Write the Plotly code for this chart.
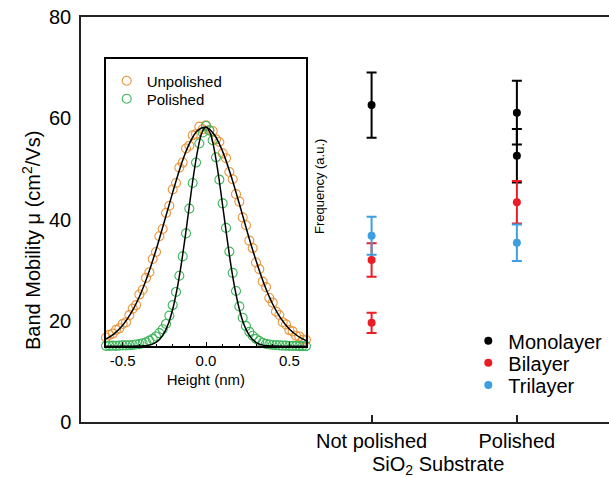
import plotly.graph_objects as go

# ---------------- main chart data ----------------
categories = ["Not polished", "Polished"]
cat_pos = [2, 3]

mono_x = [2, 3, 3]
mono_y = [62.6, 61.1, 52.6]
mono_err = [6.45, 6.3, 5.3]

bi_x = [2, 2, 3]
bi_y = [32.0, 19.6, 43.4]
bi_err = [3.3, 2.0, 4.2]

tri_x = [2, 3]
tri_y = [36.8, 35.4]
tri_err = [3.75, 3.6]

y_ticks = [0, 20, 40, 60, 80]

# ---------------- inset data ----------------
height_nm = [-0.60, -0.58, -0.56, -0.54, -0.52, -0.50, -0.48, -0.46, -0.44, -0.42,
             -0.40, -0.38, -0.36, -0.34, -0.32, -0.30, -0.28, -0.26, -0.24, -0.22,
             -0.20, -0.18, -0.16, -0.14, -0.12, -0.10, -0.08, -0.06, -0.04, -0.02,
             0.00, 0.02, 0.04, 0.06, 0.08, 0.10, 0.12, 0.14, 0.16, 0.18,
             0.20, 0.22, 0.24, 0.26, 0.28, 0.30, 0.32, 0.34, 0.36, 0.38,
             0.40, 0.42, 0.44, 0.46, 0.48, 0.50, 0.52, 0.54, 0.56, 0.58, 0.60]

unpolished_freq = [0.040, 0.052, 0.058, 0.075, 0.082, 0.102, 0.110, 0.142, 0.172, 0.188,
                   0.236, 0.258, 0.312, 0.338, 0.398, 0.430, 0.502, 0.535, 0.608, 0.641,
                   0.715, 0.745, 0.815, 0.838, 0.902, 0.915, 0.962, 0.968, 1.002, 0.990,
                   1.008, 0.985, 0.982, 0.944, 0.932, 0.880, 0.858, 0.795, 0.762, 0.694,
                   0.660, 0.588, 0.552, 0.482, 0.448, 0.382, 0.352, 0.295, 0.270, 0.220,
                   0.199, 0.158, 0.143, 0.110, 0.100, 0.074, 0.068, 0.048, 0.045, 0.030, 0.030]

polished_freq = [0.002, 0.002, 0.003, 0.002, 0.003, 0.004, 0.004, 0.005, 0.006, 0.008,
                 0.010, 0.014, 0.018, 0.026, 0.034, 0.045, 0.060, 0.078, 0.102, 0.140,
                 0.188, 0.248, 0.322, 0.410, 0.515, 0.628, 0.745, 0.838, 0.925, 0.975,
                 1.005, 0.985, 0.940, 0.862, 0.760, 0.652, 0.540, 0.432, 0.335, 0.252,
                 0.182, 0.130, 0.092, 0.066, 0.048, 0.034, 0.024, 0.016, 0.011, 0.008,
                 0.006, 0.005, 0.004, 0.003, 0.003, 0.002, 0.002, 0.002, 0.001, 0.001, 0.001]

# Gaussian fit curves
fit_unpol_x = [-0.60, -0.55, -0.50, -0.45, -0.40, -0.35, -0.30, -0.25, -0.20, -0.15, -0.10, -0.05,
               0.00, 0.05, 0.10, 0.15, 0.20, 0.25, 0.30, 0.35, 0.40, 0.45, 0.50, 0.55, 0.60]
fit_unpol_y = [0.033, 0.058, 0.096, 0.151, 0.226, 0.323, 0.439, 0.569, 0.702, 0.826, 0.924, 0.985,
               0.999, 0.965, 0.888, 0.778, 0.650, 0.516, 0.391, 0.281, 0.193, 0.126, 0.079, 0.047, 0.026]

fit_pol_x = [-0.60, -0.50, -0.40, -0.375, -0.35, -0.325, -0.30, -0.275, -0.25, -0.225, -0.20, -0.175,
             -0.15, -0.125, -0.10, -0.075, -0.05, -0.025, 0.00, 0.025, 0.05, 0.075, 0.10, 0.125,
             0.15, 0.175, 0.20, 0.225, 0.25, 0.275, 0.30, 0.325, 0.35, 0.375, 0.40, 0.50, 0.60]
fit_pol_y = [0.000, 0.000, 0.001, 0.002, 0.004, 0.009, 0.018, 0.035, 0.062, 0.105, 0.169, 0.256,
             0.367, 0.499, 0.641, 0.779, 0.895, 0.973, 1.000, 0.973, 0.895, 0.779, 0.641, 0.499,
             0.367, 0.256, 0.169, 0.105, 0.062, 0.035, 0.018, 0.009, 0.004, 0.002, 0.001, 0.000, 0.000]

inset_ticks = [-0.5, 0.0, 0.5]
inset_ticktext = ["-0.5", "0.0", "0.5"]

FONT = "Arial, Liberation Sans, sans-serif"
BLACK = "#000000"
RED = "#ec1c24"
BLUE = "#3d9fdf"
ORANGE = "#e8963c"
GREEN = "#3db55b"
AX = "#222222"

W, H = 609, 477

fig = go.Figure()

def main_trace(x, y, err, name, color, legend):
    return go.Scatter(
        x=x, y=y, mode="markers", name=name,
        marker=dict(color=color, size=8),
        error_y=dict(type="data", array=err, visible=True, color=color,
                     thickness=2, width=5),
        xaxis="x", yaxis="y", legend=legend, cliponaxis=False,
    )

fig.add_trace(main_trace(mono_x, mono_y, mono_err, "Monolayer", BLACK, "legend"))
fig.add_trace(main_trace(bi_x, bi_y, bi_err, "Bilayer", RED, "legend3"))
fig.add_trace(main_trace(tri_x, tri_y, tri_err, "Trilayer", BLUE, "legend4"))

fig.add_trace(go.Scatter(
    x=height_nm, y=unpolished_freq, mode="markers", name="Unpolished",
    marker=dict(symbol="circle-open", size=9, color=ORANGE, line=dict(width=1.1)),
    xaxis="x2", yaxis="y2", legend="legend2", cliponaxis=False,
))
fig.add_trace(go.Scatter(
    x=height_nm, y=polished_freq, mode="markers", name="Polished",
    marker=dict(symbol="circle-open", size=9, color=GREEN, line=dict(width=1.1)),
    xaxis="x2", yaxis="y2", legend="legend5", cliponaxis=False,
))
fig.add_trace(go.Scatter(
    x=fit_unpol_x, y=fit_unpol_y, mode="lines", line=dict(color=BLACK, width=1.5, shape="spline"),
    showlegend=False, xaxis="x2", yaxis="y2", hoverinfo="skip", cliponaxis=False,
))
fig.add_trace(go.Scatter(
    x=fit_pol_x, y=fit_pol_y, mode="lines", line=dict(color=BLACK, width=1.5, shape="spline"),
    showlegend=False, xaxis="x2", yaxis="y2", hoverinfo="skip", cliponaxis=False,
))

def leg(x_px, y_px, size):
    # x_px: marker centre; y_px: row centre (pixels from top-left)
    return dict(
        x=(x_px - 20) / W, y=(H - y_px) / H, xanchor="left", yanchor="middle",
        bgcolor="rgba(0,0,0,0)", borderwidth=0,
        font=dict(size=size, color=BLACK, family=FONT),
    )

fig.update_layout(
    width=W, height=H,
    margin=dict(l=0, r=0, t=0, b=0, autoexpand=False),
    paper_bgcolor="white", plot_bgcolor="rgba(0,0,0,0)",
    font=dict(family=FONT, color=BLACK),
    xaxis=dict(
        domain=[81 / W, 1.0], range=[0, 3.634],
        tickvals=cat_pos, ticktext=categories,
        ticks="inside", ticklen=7, tickwidth=1.5, tickcolor=AX,
        showline=True, linecolor=AX, linewidth=1.5, mirror=True,
        showgrid=False, zeroline=False, automargin=False,
        tickfont=dict(size=20, color=BLACK, family=FONT),
    ),
    yaxis=dict(
        domain=[(H - 422) / H, (H - 17) / H], range=[0, 80],
        tickvals=y_ticks, ticks="",
        showline=True, linecolor=AX, linewidth=1.5, mirror=False,
        showgrid=False, zeroline=False, ticklabelstandoff=4, automargin=False,
        tickfont=dict(size=20, color=BLACK, family=FONT),
    ),
    xaxis2=dict(
        domain=[105.7 / W, 306 / W], range=[-0.602, 0.6], anchor="y2",
        tickvals=inset_ticks, ticktext=inset_ticktext,
        ticks="inside", ticklen=5, tickwidth=1.2, tickcolor=BLACK,
        minor=dict(ticks="inside", ticklen=3, tickwidth=1, dtick=0.1, tick0=0, tickcolor=BLACK),
        showline=True, linecolor=BLACK, linewidth=1.5, mirror=True,
        showgrid=False, zeroline=False, automargin=False,
        tickfont=dict(size=15, color=BLACK, family=FONT),
        title=dict(text="Height (nm)", font=dict(size=15, color=BLACK, family=FONT), standoff=6),
    ),
    yaxis2=dict(
        domain=[(H - 346.3) / H, (H - 59.3) / H], range=[0, 1.309], anchor="x2",
        showticklabels=False, ticks="",
        showline=True, linecolor=BLACK, linewidth=1.5, mirror=True,
        showgrid=False, zeroline=False, automargin=False,
    ),
    legend=leg(488.3, 340.7, 20),
    legend3=leg(488.3, 362.7, 20),
    legend4=leg(488.3, 385.0, 20),
    legend2=leg(126.7, 81.0, 15),
    legend5=leg(126.7, 99.0, 15),
    annotations=[
        dict(text="Band Mobility μ (cm<sup>2</sup>/Vs)", xref="paper", yref="paper",
             x=31 / W, y=(H - 241) / H, textangle=-90, showarrow=False,
             xanchor="center", yanchor="middle", font=dict(size=20, color=BLACK, family=FONT)),
        dict(text="SiO<sub>2</sub> Substrate", xref="paper", yref="paper",
             x=438 / W, y=(H - 465) / H, showarrow=False,
             xanchor="center", yanchor="middle", font=dict(size=20, color=BLACK, family=FONT)),
        dict(text="Frequency (a.u.)", xref="paper", yref="paper",
             x=320 / W, y=(H - 187) / H, textangle=-90, showarrow=False,
             xanchor="center", yanchor="middle", font=dict(size=13, color=BLACK, family=FONT)),
    ],
)

fig.write_html(
    "out.html",
    config={"displayModeBar": False},
    post_script="document.body.style.margin='0';document.body.style.overflow='hidden';",
)
